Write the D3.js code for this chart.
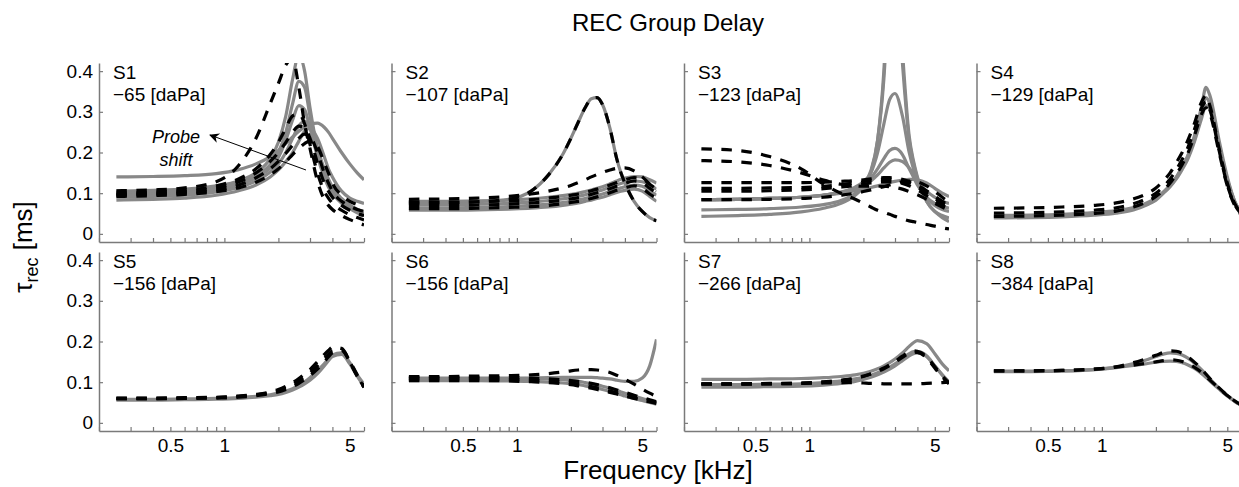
<!DOCTYPE html>
<html><head><meta charset="utf-8">
<script src="https://cdn.jsdelivr.net/npm/d3@7"></script>
<style>
html,body{margin:0;padding:0;background:#fff;}
text{font-family:"Liberation Sans",Arial,sans-serif;}
</style></head>
<body>
<svg id="chart" width="1239" height="487"></svg>
<script>
// ---- data ----
const freqs = [0.25, 0.4, 0.6, 0.9, 1.2, 1.5, 1.8, 2.0, 2.2, 2.4, 2.6, 2.8, 3.0, 3.3, 3.6, 3.8, 4.0, 4.5, 5.0, 5.5, 6.0];
const subjects = ["S1","S2","S3","S4","S5","S6","S7","S8"];
const pressures = ["\u221265","\u2212107","\u2212123","\u2212129","\u2212156","\u2212156","\u2212266","\u2212384"];
const yTicks = [0, 0.1, 0.2, 0.3, 0.4];
const xTicks = [0.2, 0.3, 0.4, 0.5, 0.6, 0.7, 0.8, 0.9, 1, 2, 3, 4, 5, 6];
const xTickLabels = [0.5, 1, 5];

const s1Solid = [
 [0.140,0.141,0.143,0.148,0.158,0.172,0.19,0.205,0.222,0.238,0.252,0.263,0.270,0.272,0.262,0.25,0.235,0.2,0.172,0.15,0.133],
 [0.105,0.107,0.11,0.118,0.13,0.15,0.185,0.225,0.29,0.38,0.44,0.40,0.31,0.21,0.15,0.125,0.11,0.085,0.07,0.06,0.052],
 [0.1,0.102,0.106,0.113,0.125,0.143,0.17,0.2,0.25,0.32,0.375,0.36,0.29,0.2,0.145,0.12,0.105,0.08,0.066,0.057,0.05],
 [0.095,0.097,0.1,0.108,0.12,0.138,0.162,0.188,0.23,0.28,0.315,0.305,0.26,0.19,0.14,0.115,0.1,0.075,0.062,0.052,0.045],
 [0.09,0.092,0.095,0.103,0.114,0.13,0.152,0.172,0.2,0.235,0.265,0.277,0.262,0.21,0.16,0.135,0.115,0.087,0.07,0.06,0.055],
 [0.083,0.085,0.088,0.095,0.106,0.12,0.14,0.157,0.178,0.2,0.228,0.252,0.26,0.235,0.19,0.16,0.14,0.105,0.088,0.08,0.075]
];
const s1Dashed = [
 [0.106,0.108,0.113,0.128,0.168,0.235,0.32,0.37,0.415,0.43,0.36,0.27,0.21,0.13,0.085,0.07,0.06,0.045,0.035,0.028,0.022],
 [0.1,0.102,0.107,0.118,0.135,0.16,0.195,0.225,0.26,0.29,0.295,0.27,0.22,0.15,0.105,0.088,0.075,0.058,0.047,0.04,0.034],
 [0.098,0.1,0.104,0.113,0.128,0.15,0.178,0.2,0.225,0.25,0.265,0.26,0.235,0.175,0.125,0.105,0.09,0.07,0.058,0.05,0.045],
 [0.095,0.097,0.1,0.108,0.12,0.138,0.16,0.178,0.198,0.218,0.235,0.245,0.24,0.2,0.15,0.125,0.105,0.08,0.068,0.06,0.055],
 [0.092,0.094,0.097,0.104,0.113,0.127,0.145,0.16,0.177,0.195,0.21,0.222,0.228,0.215,0.175,0.15,0.125,0.095,0.08,0.072,0.068]
];
const s2Solid = [
 [0.076,0.077,0.079,0.085,0.105,0.145,0.195,0.235,0.275,0.31,0.332,0.335,0.318,0.26,0.185,0.15,0.125,0.08,0.055,0.04,0.032],
 [0.08,0.08,0.081,0.083,0.086,0.09,0.094,0.097,0.1,0.104,0.108,0.112,0.116,0.123,0.13,0.134,0.137,0.141,0.14,0.133,0.125],
 [0.072,0.072,0.073,0.075,0.078,0.082,0.086,0.089,0.092,0.096,0.1,0.104,0.108,0.115,0.121,0.124,0.127,0.13,0.128,0.12,0.11],
 [0.064,0.064,0.065,0.067,0.07,0.073,0.077,0.08,0.083,0.087,0.09,0.094,0.098,0.104,0.11,0.113,0.116,0.12,0.117,0.106,0.095],
 [0.058,0.058,0.059,0.061,0.063,0.066,0.07,0.073,0.076,0.08,0.083,0.087,0.09,0.096,0.102,0.105,0.107,0.11,0.105,0.092,0.08]
];
const s2Dashed = [
 [0.076,0.077,0.079,0.085,0.105,0.145,0.195,0.235,0.275,0.31,0.332,0.335,0.318,0.26,0.185,0.15,0.125,0.08,0.055,0.04,0.032],
 [0.085,0.086,0.088,0.092,0.098,0.105,0.113,0.119,0.126,0.133,0.14,0.146,0.151,0.157,0.161,0.162,0.162,0.155,0.14,0.122,0.105],
 [0.078,0.078,0.079,0.081,0.084,0.088,0.092,0.095,0.098,0.102,0.106,0.11,0.114,0.12,0.126,0.13,0.133,0.138,0.135,0.122,0.11],
 [0.07,0.07,0.071,0.073,0.076,0.079,0.083,0.086,0.089,0.093,0.097,0.101,0.105,0.111,0.117,0.12,0.124,0.13,0.126,0.112,0.1],
 [0.062,0.062,0.063,0.065,0.067,0.07,0.074,0.077,0.08,0.083,0.087,0.091,0.095,0.101,0.107,0.11,0.113,0.118,0.112,0.098,0.088]
];
const s3Solid = [
 [0.084,0.085,0.087,0.09,0.095,0.1,0.106,0.11,0.114,0.118,0.122,0.126,0.129,0.132,0.134,0.134,0.133,0.125,0.112,0.1,0.092],
 [0.043,0.045,0.048,0.054,0.063,0.075,0.095,0.115,0.15,0.23,0.4,0.7,0.75,0.45,0.24,0.18,0.14,0.08,0.055,0.04,0.03],
 [0.059,0.06,0.062,0.066,0.072,0.082,0.1,0.12,0.155,0.23,0.38,0.62,0.68,0.42,0.23,0.175,0.135,0.08,0.055,0.045,0.039],
 [0.084,0.085,0.087,0.09,0.095,0.103,0.115,0.128,0.15,0.2,0.27,0.33,0.345,0.29,0.2,0.16,0.13,0.09,0.07,0.06,0.055],
 [0.084,0.085,0.087,0.09,0.095,0.102,0.112,0.122,0.137,0.16,0.185,0.205,0.21,0.195,0.16,0.14,0.12,0.09,0.075,0.068,0.063],
 [0.084,0.085,0.087,0.09,0.095,0.101,0.11,0.118,0.13,0.145,0.162,0.176,0.182,0.178,0.162,0.148,0.132,0.105,0.09,0.08,0.075]
];
const s3Dashed = [
 [0.209,0.205,0.19,0.16,0.122,0.1,0.085,0.075,0.066,0.058,0.053,0.048,0.043,0.037,0.032,0.03,0.028,0.023,0.019,0.015,0.012],
 [0.18,0.177,0.168,0.15,0.132,0.122,0.118,0.117,0.117,0.117,0.117,0.116,0.114,0.11,0.104,0.1,0.096,0.085,0.075,0.066,0.058],
 [0.126,0.126,0.126,0.126,0.127,0.129,0.131,0.133,0.135,0.137,0.138,0.138,0.137,0.134,0.129,0.125,0.12,0.106,0.092,0.08,0.07],
 [0.112,0.112,0.113,0.114,0.117,0.121,0.125,0.128,0.131,0.133,0.134,0.134,0.133,0.13,0.125,0.12,0.115,0.1,0.087,0.075,0.065],
 [0.105,0.105,0.106,0.108,0.111,0.115,0.119,0.122,0.125,0.127,0.128,0.128,0.127,0.124,0.118,0.113,0.108,0.094,0.081,0.07,0.061],
 [0.084,0.084,0.085,0.087,0.09,0.095,0.1,0.104,0.108,0.112,0.116,0.12,0.124,0.128,0.13,0.13,0.128,0.118,0.104,0.09,0.078]
];
const s4Solid = [
 [0.039,0.04,0.042,0.046,0.051,0.059,0.072,0.083,0.1,0.117,0.138,0.163,0.19,0.245,0.315,0.36,0.34,0.23,0.14,0.08,0.05],
 [0.045,0.046,0.048,0.052,0.057,0.065,0.077,0.088,0.103,0.12,0.14,0.165,0.19,0.24,0.3,0.335,0.32,0.22,0.135,0.08,0.05],
 [0.042,0.043,0.045,0.049,0.054,0.062,0.074,0.085,0.1,0.116,0.135,0.158,0.182,0.23,0.285,0.315,0.305,0.215,0.13,0.078,0.05]
];
const s4Dashed = [
 [0.063,0.064,0.066,0.07,0.076,0.086,0.1,0.113,0.13,0.15,0.175,0.2,0.228,0.275,0.325,0.34,0.315,0.21,0.125,0.075,0.05],
 [0.051,0.052,0.054,0.058,0.064,0.074,0.088,0.1,0.116,0.135,0.158,0.183,0.21,0.26,0.31,0.325,0.305,0.205,0.12,0.072,0.048],
 [0.043,0.044,0.046,0.05,0.056,0.066,0.08,0.092,0.107,0.125,0.147,0.17,0.196,0.245,0.295,0.31,0.295,0.2,0.118,0.07,0.046]
];
const s5Solid = [
 [0.058,0.058,0.059,0.06,0.062,0.065,0.069,0.073,0.078,0.084,0.092,0.101,0.111,0.128,0.145,0.157,0.167,0.172,0.148,0.118,0.095],
 [0.056,0.056,0.057,0.058,0.06,0.063,0.067,0.07,0.075,0.081,0.088,0.096,0.105,0.121,0.14,0.153,0.163,0.168,0.145,0.115,0.09]
];
const s5Dashed = [
 [0.061,0.061,0.062,0.063,0.066,0.07,0.076,0.082,0.09,0.099,0.109,0.12,0.131,0.15,0.168,0.178,0.186,0.183,0.15,0.115,0.088],
 [0.06,0.06,0.061,0.062,0.065,0.069,0.074,0.079,0.086,0.094,0.103,0.113,0.123,0.14,0.158,0.168,0.177,0.18,0.152,0.118,0.092],
 [0.059,0.059,0.06,0.061,0.063,0.067,0.072,0.076,0.082,0.089,0.097,0.106,0.116,0.132,0.15,0.162,0.172,0.178,0.15,0.114,0.087]
];
const s6Solid = [
 [0.108,0.108,0.108,0.109,0.11,0.111,0.112,0.112,0.112,0.112,0.112,0.111,0.11,0.108,0.105,0.103,0.102,0.102,0.11,0.14,0.205],
 [0.11,0.11,0.11,0.11,0.109,0.108,0.106,0.104,0.102,0.099,0.096,0.093,0.09,0.085,0.08,0.076,0.073,0.066,0.06,0.055,0.05],
 [0.104,0.104,0.104,0.103,0.102,0.1,0.098,0.096,0.094,0.091,0.088,0.085,0.082,0.077,0.072,0.069,0.066,0.06,0.055,0.05,0.046]
];
const s6Dashed = [
 [0.114,0.114,0.115,0.116,0.118,0.121,0.125,0.128,0.13,0.131,0.131,0.13,0.128,0.124,0.117,0.112,0.107,0.095,0.083,0.073,0.065],
 [0.112,0.112,0.112,0.111,0.11,0.108,0.106,0.104,0.102,0.1,0.097,0.094,0.091,0.086,0.081,0.078,0.075,0.068,0.062,0.057,0.052],
 [0.108,0.108,0.108,0.107,0.105,0.103,0.1,0.098,0.095,0.092,0.089,0.086,0.083,0.078,0.074,0.071,0.068,0.062,0.057,0.052,0.048],
 [0.104,0.104,0.104,0.103,0.101,0.099,0.096,0.094,0.091,0.088,0.085,0.082,0.079,0.075,0.071,0.068,0.066,0.06,0.056,0.052,0.049]
];
const s7Solid = [
 [0.107,0.107,0.108,0.109,0.111,0.114,0.118,0.122,0.127,0.133,0.14,0.148,0.157,0.172,0.188,0.197,0.202,0.195,0.17,0.145,0.128],
 [0.088,0.088,0.089,0.09,0.093,0.097,0.102,0.107,0.112,0.118,0.125,0.132,0.14,0.153,0.165,0.17,0.172,0.163,0.14,0.118,0.1],
 [0.094,0.094,0.095,0.096,0.099,0.103,0.108,0.112,0.117,0.123,0.13,0.137,0.145,0.158,0.17,0.175,0.175,0.165,0.14,0.118,0.1]
];
const s7Dashed = [
 [0.096,0.096,0.097,0.098,0.101,0.105,0.11,0.115,0.121,0.128,0.135,0.143,0.151,0.164,0.174,0.177,0.176,0.163,0.138,0.115,0.098],
 [0.096,0.096,0.096,0.097,0.098,0.099,0.099,0.098,0.097,0.097,0.096,0.096,0.096,0.096,0.096,0.096,0.096,0.097,0.098,0.099,0.1],
 [0.095,0.095,0.096,0.097,0.1,0.104,0.109,0.114,0.12,0.126,0.133,0.141,0.149,0.161,0.171,0.174,0.173,0.16,0.135,0.112,0.096]
];
const s8Solid = [
 [0.127,0.127,0.128,0.131,0.136,0.141,0.146,0.149,0.151,0.152,0.151,0.148,0.143,0.133,0.121,0.112,0.103,0.083,0.066,0.053,0.043],
 [0.126,0.126,0.127,0.131,0.137,0.146,0.156,0.163,0.169,0.172,0.171,0.167,0.16,0.146,0.13,0.119,0.108,0.085,0.067,0.053,0.043]
];
const s8Dashed = [
 [0.128,0.128,0.129,0.132,0.138,0.148,0.159,0.166,0.173,0.177,0.176,0.171,0.163,0.148,0.132,0.12,0.109,0.086,0.068,0.054,0.044],
 [0.128,0.128,0.129,0.132,0.137,0.142,0.147,0.15,0.153,0.155,0.154,0.151,0.146,0.136,0.124,0.114,0.105,0.085,0.067,0.054,0.044]
];
const solidSets = [s1Solid,s2Solid,s3Solid,s4Solid,s5Solid,s6Solid,s7Solid,s8Solid];
const dashedSets = [s1Dashed,s2Dashed,s3Dashed,s4Dashed,s5Dashed,s6Dashed,s7Dashed,s8Dashed];

// ---- layout ----
const svg = d3.select("#chart");
const panelW = 265, step = 292.5, left0 = 99;
const rowTop = [63, 252], panelH = 179;
const axisColor = "#7a7a7a", grayLine = "#888888";

svg.append("text").attr("x", 668).attr("y", 31).attr("text-anchor","middle")
  .style("font-size","24px").text("REC Group Delay");
svg.append("text").attr("x", 658).attr("y", 479).attr("text-anchor","middle")
  .style("font-size","26px").text("Frequency [kHz]");
const yl = svg.append("text").attr("transform","translate(32,247) rotate(-90)")
  .attr("text-anchor","middle").style("font-size","26px");
yl.append("tspan").text("\u03c4");
yl.append("tspan").attr("dy", 6).style("font-size","18px").text("rec");
yl.append("tspan").attr("dy", -6).text(" [ms]");

subjects.forEach((name, i) => {
  const row = Math.floor(i / 4), col = i % 4;
  const L = left0 + col * step, T = rowTop[row], B = T + panelH;
  const x = d3.scaleLog().domain([0.2, 6]).range([L, L + panelW]);
  const y = d3.scaleLinear().domain([-0.02, 0.42]).range([B, T]);
  const g = svg.append("g");

  const cid = "clip" + i;
  svg.append("clipPath").attr("id", cid).append("rect")
    .attr("x", L).attr("y", T).attr("width", panelW).attr("height", panelH);

  const line = d3.line().x((d, k) => x(freqs[k])).y(d => y(d)).curve(d3.curveMonotoneX);
  const lines = g.append("g").attr("clip-path", `url(#${cid})`);
  solidSets[i].forEach(s => lines.append("path").attr("d", line(s))
    .attr("fill","none").attr("stroke", grayLine).attr("stroke-width", 3.2));
  dashedSets[i].forEach(s => lines.append("path").attr("d", line(s))
    .attr("fill","none").attr("stroke", "#000").attr("stroke-width", 3.2)
    .attr("stroke-dasharray","10.5,9.5"));

  // axes
  const xa = d3.axisBottom(x).tickValues(xTicks).tickSize(-4).tickSizeOuter(0).tickPadding(8)
    .tickFormat(d => (row === 1 && xTickLabels.includes(d)) ? String(d) : "");
  const gx = g.append("g").attr("transform", `translate(0,${B})`).call(xa);
  const ya = d3.axisLeft(y).tickValues(yTicks).tickSize(-4).tickSizeOuter(0).tickPadding(6)
    .tickFormat(d => col === 0 ? String(d) : "");
  const gy = g.append("g").attr("transform", `translate(${L},0)`).call(ya);
  [gx, gy].forEach(a => {
    a.select(".domain").attr("stroke", axisColor).attr("stroke-width", 1.5);
    a.selectAll(".tick line").attr("stroke", axisColor).attr("stroke-width", 1.2);
    a.selectAll(".tick text").attr("fill", "#000").style("font-size","19px")
      .style("font-family","'Liberation Sans',Arial,sans-serif");
  });

  g.append("text").attr("x", L + 14).attr("y", T + 16).style("font-size","19px").text(name);
  g.append("text").attr("x", L + 14).attr("y", T + 38).style("font-size","19px")
    .text(pressures[i] + " [daPa]");

  if (i === 0) {
    svg.append("defs").append("marker").attr("id","arrowhead")
      .attr("viewBox","0 0 10 10").attr("refX",9).attr("refY",5)
      .attr("markerWidth",13).attr("markerHeight",10).attr("orient","auto")
      .attr("markerUnits","userSpaceOnUse")
      .append("path").attr("d","M0,0 L10,5 L0,10 L3,5 Z").attr("fill","#000");
    g.append("line").attr("x1", 306).attr("y1", 170).attr("x2", 210).attr("y2", 135)
      .attr("stroke","#000").attr("stroke-width",1).attr("marker-end","url(#arrowhead)");
    g.append("text").attr("x", 176).attr("y", 143).attr("text-anchor","middle")
      .style("font-size","18px").style("font-style","italic").text("Probe");
    g.append("text").attr("x", 176).attr("y", 166).attr("text-anchor","middle")
      .style("font-size","18px").style("font-style","italic").text("shift");
  }
});
</script>
</body></html>
